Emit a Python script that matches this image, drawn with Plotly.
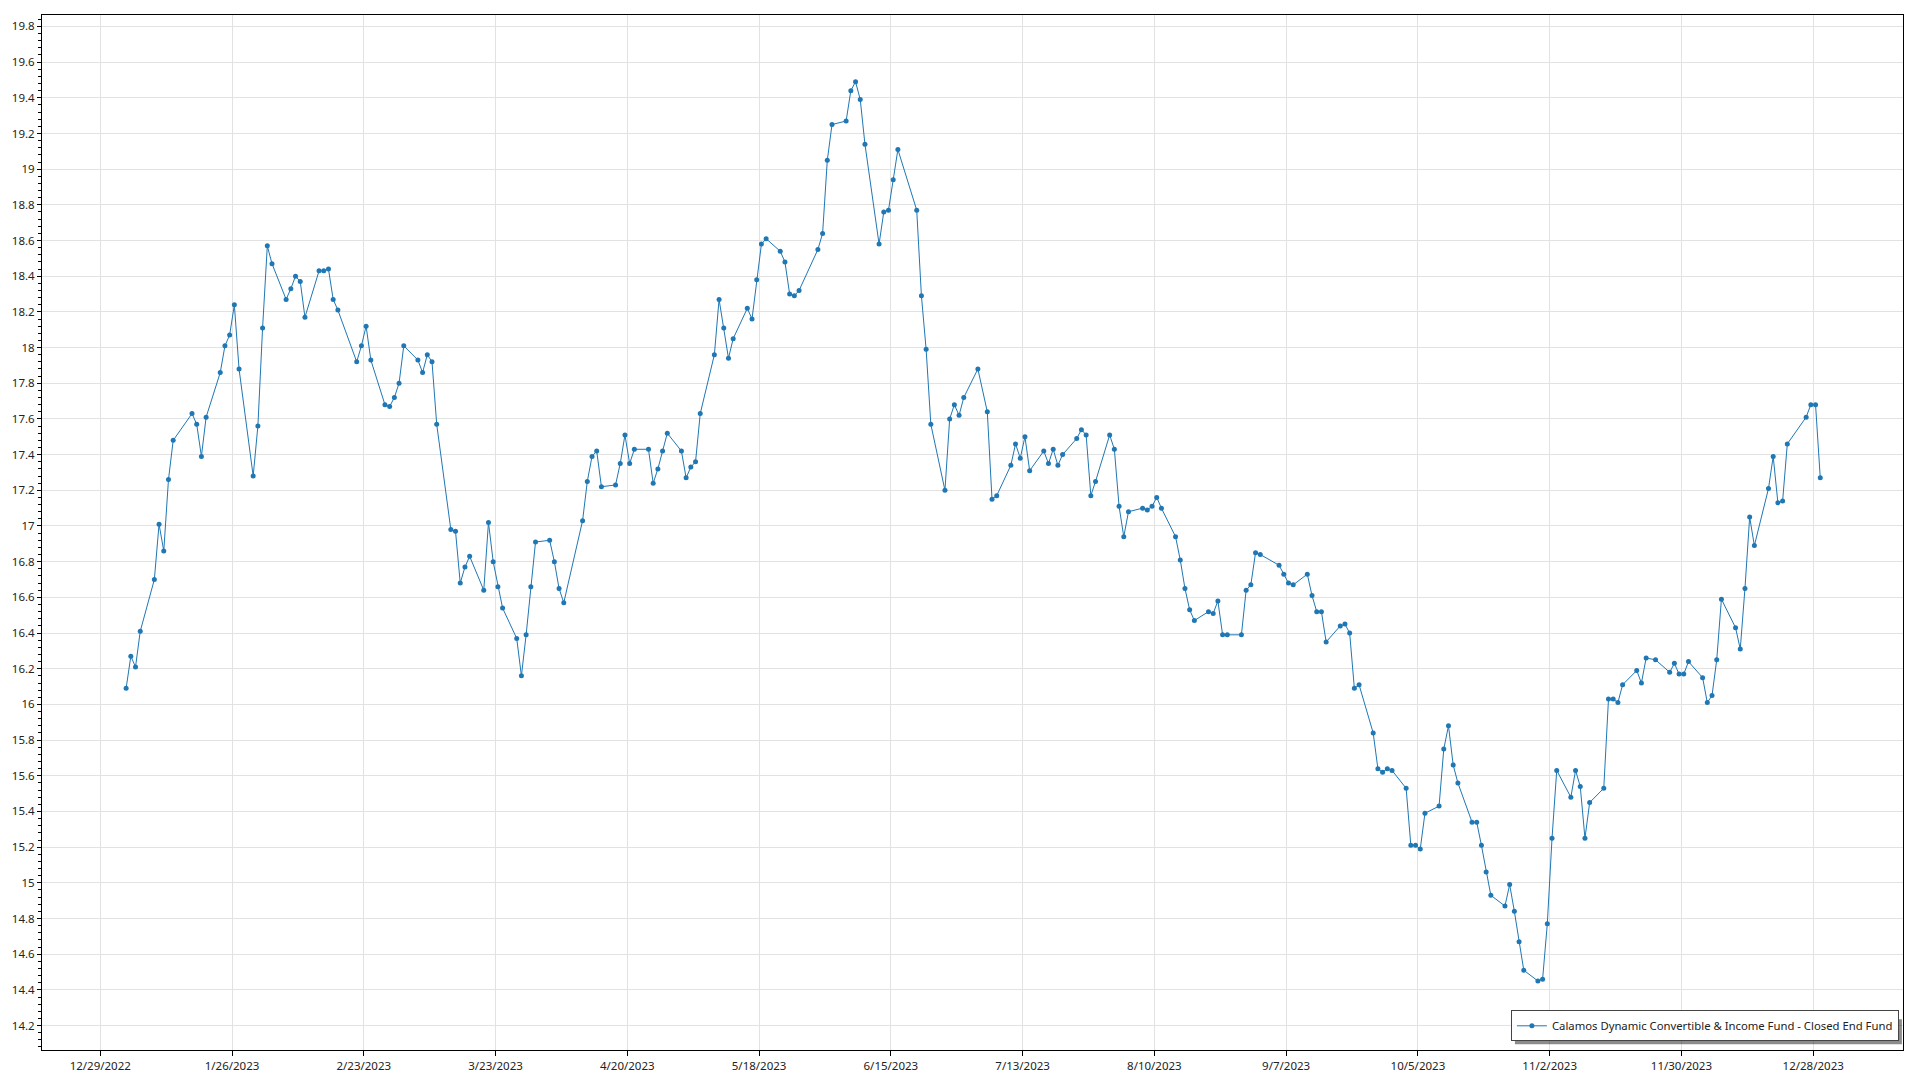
import pandas as pd
import plotly.graph_objects as go

series_name = "Calamos Dynamic Convertible & Income Fund - Closed End Fund"

market_holidays = ["2023-01-02", "2023-01-16", "2023-02-20", "2023-04-07", "2023-05-29",
                   "2023-06-19", "2023-07-04", "2023-09-04", "2023-11-23", "2023-12-25"]

jan = [16.09, 16.27, 16.21, 16.41, 16.70, 17.01, 16.86, 17.26, 17.48, 17.63,
       17.57, 17.39, 17.61, 17.86, 18.01, 18.07, 18.24, 17.88, 17.28, 17.56]
feb = [18.11, 18.57, 18.47, 18.27, 18.33, 18.40, 18.37, 18.17, 18.43, 18.43,
       18.44, 18.27, 18.21, 17.92, 18.01, 18.12, 17.93, 17.68, 17.67]
mar = [17.72, 17.80, 18.01, 17.93, 17.86, 17.96, 17.92, 17.57, 16.98, 16.97,
       16.68, 16.77, 16.83, 16.64, 17.02, 16.80, 16.66, 16.54, 16.37, 16.16,
       16.39, 16.66, 16.91]
apr = [16.92, 16.80, 16.65, 16.57, 17.03, 17.25, 17.39, 17.42, 17.22, 17.23,
       17.35, 17.51, 17.35, 17.43, 17.43, 17.24, 17.32, 17.42, 17.52]
may = [17.42, 17.27, 17.33, 17.36, 17.63, 17.96, 18.27, 18.11, 17.94, 18.05,
       18.22, 18.16, 18.38, 18.58, 18.61, 18.54, 18.48, 18.30, 18.29, 18.32,
       18.55, 18.64]
jun = [19.05, 19.25, 19.27, 19.44, 19.49, 19.39, 19.14, 18.58, 18.76, 18.77,
       18.94, 19.11, 18.77, 18.29, 17.99, 17.57, 17.20, 17.60, 17.68, 17.62,
       17.72]
jul = [17.88, 17.64, 17.15, 17.17, 17.34, 17.46, 17.38, 17.50, 17.31, 17.42,
       17.35, 17.43, 17.34, 17.40, 17.49, 17.54, 17.51, 17.17, 17.25, 17.51]
aug = [17.43, 17.11, 16.94, 17.08, 17.10, 17.09, 17.11, 17.16, 17.10, 16.94,
       16.81, 16.65, 16.53, 16.47, 16.52, 16.51, 16.58, 16.39, 16.39, 16.39,
       16.64, 16.67, 16.85]
sep = [16.84, 16.78, 16.73, 16.68, 16.67, 16.73, 16.61, 16.52, 16.52, 16.35,
       16.44, 16.45, 16.40, 16.09, 16.11, 15.84, 15.64, 15.62, 15.64, 15.63]
oct_ = [15.53, 15.21, 15.21, 15.19, 15.39, 15.43, 15.75, 15.88, 15.66, 15.56,
        15.34, 15.34, 15.21, 15.06, 14.93, 14.87, 14.99, 14.84, 14.67, 14.51,
        14.45, 14.46]
nov = [14.77, 15.25, 15.63, 15.48, 15.63, 15.54, 15.25, 15.45, 15.53, 16.03,
       16.03, 16.01, 16.11, 16.19, 16.12, 16.26, 16.25, 16.18, 16.23, 16.17,
       16.17]
dec = [16.24, 16.15, 16.01, 16.05, 16.25, 16.59, 16.43, 16.31, 16.65, 17.05,
       16.89, 17.21, 17.39, 17.13, 17.14, 17.46, 17.61, 17.68, 17.68, 17.27]

tick_dates = ["2022-12-29", "2023-01-26", "2023-02-23", "2023-03-23", "2023-04-20",
              "2023-05-18", "2023-06-15", "2023-07-13", "2023-08-10", "2023-09-07",
              "2023-10-05", "2023-11-02", "2023-11-30", "2023-12-28"]
tick_labels = ["12/29/2022", "1/26/2023", "2/23/2023", "3/23/2023", "4/20/2023",
               "5/18/2023", "6/15/2023", "7/13/2023", "8/10/2023", "9/7/2023",
               "10/5/2023", "11/2/2023", "11/30/2023", "12/28/2023"]

dates = pd.bdate_range("2023-01-03", "2023-12-29", freq="C", holidays=market_holidays)
prices = jan + feb + mar + apr + may + jun + jul + aug + sep + oct_ + nov + dec
assert len(dates) == len(prices), (len(dates), len(prices))

blue = "#1f77b4"
fig = go.Figure(go.Scatter(
    x=dates, y=prices, mode="lines+markers", name=series_name,
    line=dict(color=blue, width=1), marker=dict(size=5, color=blue),
))

tick_pos = pd.to_datetime(tick_dates) - pd.Timedelta(hours=12)

W, H = 1920, 1080
ml, mr, mt, mb = 42, 17, 15, 30
pw, ph = W - ml - mr, H - mt - mb

leg_x, leg_y = 0.9978, 0.0084
leg_w_px, leg_h_px = 388, 26

fig.update_layout(
    width=W, height=H,
    margin=dict(l=ml, r=mr, t=mt, b=mb, autoexpand=False),
    plot_bgcolor="white", paper_bgcolor="white",
    font=dict(family="Noto Sans", size=11.5, color="#222222"),
    showlegend=True,
    legend=dict(x=leg_x, y=leg_y, xanchor="right", yanchor="bottom",
                bgcolor="white", bordercolor="#444444", borderwidth=1,
                font=dict(size=11.3, color="#222222")),
    shapes=[dict(type="rect", xref="paper", yref="paper", layer="above",
                 x0=leg_x - (leg_w_px - 4) / pw, x1=leg_x + 3 / pw,
                 y0=leg_y - 3 / ph, y1=leg_y + (leg_h_px - 4) / ph,
                 fillcolor="rgba(0,0,0,0.45)", line=dict(width=0))],
)
fig.update_xaxes(
    range=["2022-12-16 03:00", "2024-01-15 14:00"], automargin=False,
    tickmode="array", tickvals=tick_pos, ticktext=tick_labels,
    showgrid=True, gridcolor="#e2e2e2", gridwidth=1,
    showline=True, linecolor="black", linewidth=1, mirror=True,
    ticks="outside", ticklen=5, tickcolor="black", zeroline=False,
)
fig.update_yaxes(
    range=[14.063, 19.864], tick0=14.2, dtick=0.2, automargin=False,
    showgrid=True, gridcolor="#e2e2e2", gridwidth=1,
    showline=True, linecolor="black", linewidth=1, mirror=True,
    ticks="outside", ticklen=4, tickcolor="black", zeroline=False,
    minor=dict(dtick=0.04, ticks="outside", ticklen=3, tickcolor="black", showgrid=False),
)

fig.write_html("out.html", config={"displayModeBar": False},
               post_script="document.body.style.margin='0';document.body.style.overflow='hidden';")
